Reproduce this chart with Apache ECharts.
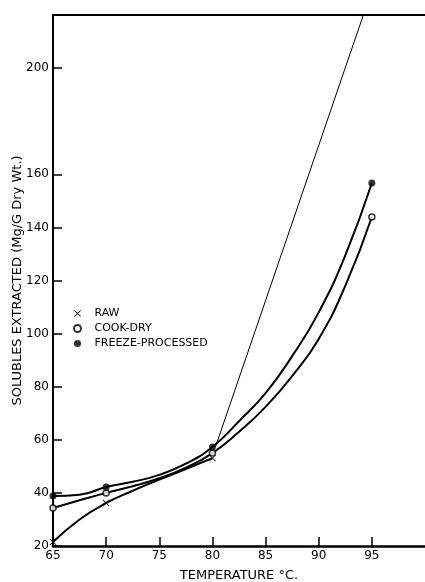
<!DOCTYPE html>
<html>
<head>
<meta charset="utf-8">
<script src="https://cdn.jsdelivr.net/npm/echarts@6/dist/echarts.min.js"></script>
<style>
  html, body { margin: 0; padding: 0; background: #fff; }
  #chart { width: 425px; height: 582px; }
</style>
</head>
<body>
<div id="chart"></div>
<script>
// measured points (temperature °C, mg/g dry wt.)
const rawPoints = [[65, 21.5], [70, 36.2], [80, 53.1]];
const cookPoints = [[65, 34.3], [70, 40], [80, 55], [95, 143.9]];
const freezePoints = [[65, 38.8], [70, 42.2], [80, 57.3], [95, 156.7]];

// drawn curves, read along the pen lines of the figure every 2.5 °C
const rawCurve = [[65, 21.5], [67.5, 30], [70, 36.2], [72.5, 40.8], [75, 45], [77.5, 49], [80, 53.1]];
const cookCurve = [[65, 34.3], [67.5, 37.2], [70, 40], [72.5, 42.5], [75, 45.5], [77.5, 49.5],
  [80, 55], [82.5, 63], [85, 72.4], [87.5, 84], [90, 98], [92.5, 118], [95, 143.9]];
const freezeCurve = [[65, 38.8], [67.5, 39.3], [70, 42.2], [72.5, 44.2], [75, 46.8], [77.5, 51],
  [80, 57.3], [82.5, 67], [85, 77.6], [87.5, 91.5], [90, 108], [92.5, 129.5], [95, 156.7]];
const thinLine = [[80.3, 57.5], [94.2, 220]];

const xTicks = [65, 70, 75, 80, 85, 90, 95];
const yTicks = [20, 40, 60, 80, 100, 120, 140, 160, 200];

const crossPath = "path://M0,1L1,0L5,4L9,0L10,1L6,5L10,9L9,10L5,6L1,10L0,9L4,5Z";
const font = "DejaVu Sans";

const myChart = echarts.init(document.getElementById("chart"));

const curve = (data) => ({
  type: "line",
  data: data,
  smooth: 0.5,
  showSymbol: false,
  silent: true,
  lineStyle: { color: "#000", width: 2 },
  z: 2,
});

const option = {
  animation: false,
  backgroundColor: "#fff",
  grid: { left: 53, right: 0, top: 15, bottom: 36, outerBoundsMode: "none", containLabel: false },
  legend: {
    orient: "vertical",
    left: 68,
    top: 303,
    itemWidth: 24,
    itemHeight: 7,
    itemGap: 4,
    data: ["RAW", "COOK-DRY", "FREEZE-PROCESSED"],
    textStyle: { fontFamily: font, fontSize: 11, color: "#000" },
  },
  xAxis: [
    {
      type: "value",
      min: 65,
      max: 100,
      interval: 5,
      name: "TEMPERATURE °C.",
      nameLocation: "middle",
      nameGap: 23,
      nameTextStyle: { fontFamily: font, fontSize: 13, color: "#000" },
      axisLine: { lineStyle: { color: "#000", width: 2.5 } },
      axisTick: { inside: true, length: 9, lineStyle: { color: "#000", width: 1.5 }, customValues: xTicks },
      axisLabel: { fontFamily: font, fontSize: 12, color: "#000", margin: 4, customValues: xTicks },
      splitLine: { show: false },
    },
    {
      type: "value",
      position: "top",
      min: 65,
      max: 100,
      axisLine: { show: true, lineStyle: { color: "#000", width: 2 } },
      axisTick: { show: false },
      axisLabel: { show: false },
      splitLine: { show: false },
    },
  ],
  yAxis: {
    type: "value",
    min: 20,
    max: 220,
    interval: 20,
    name: "SOLUBLES EXTRACTED (Mg/G Dry Wt.)",
    nameLocation: "middle",
    nameGap: 29,
    nameMoveOverlap: false,
    nameTextStyle: { fontFamily: font, fontSize: 13, color: "#000" },
    axisLine: { show: true, lineStyle: { color: "#000", width: 2 } },
    axisTick: { inside: true, length: 9, lineStyle: { color: "#000", width: 1.5 }, customValues: yTicks },
    axisLabel: { fontFamily: font, fontSize: 12, color: "#000", margin: 4, customValues: yTicks },
    splitLine: { show: false },
  },
  series: [
    curve(rawCurve),
    curve(cookCurve),
    curve(freezeCurve),
    {
      type: "line",
      data: thinLine,
      showSymbol: false,
      silent: true,
      lineStyle: { color: "#000", width: 1 },
      z: 2,
    },
    {
      name: "RAW",
      type: "scatter",
      data: rawPoints,
      symbol: crossPath,
      symbolSize: 7,
      symbolKeepAspect: true,
      itemStyle: { color: "#000" },
      z: 5,
    },
    {
      name: "COOK-DRY",
      type: "scatter",
      data: cookPoints,
      symbol: "circle",
      symbolSize: 6,
      symbolKeepAspect: true,
      itemStyle: { color: "#fff", borderColor: "#000", borderWidth: 1.5 },
      z: 5,
    },
    {
      name: "FREEZE-PROCESSED",
      type: "scatter",
      data: freezePoints,
      symbol: "circle",
      symbolSize: 7,
      symbolKeepAspect: true,
      itemStyle: { color: "#000" },
      z: 5,
    },
  ],
};

myChart.setOption(option);
</script>
</body>
</html>
